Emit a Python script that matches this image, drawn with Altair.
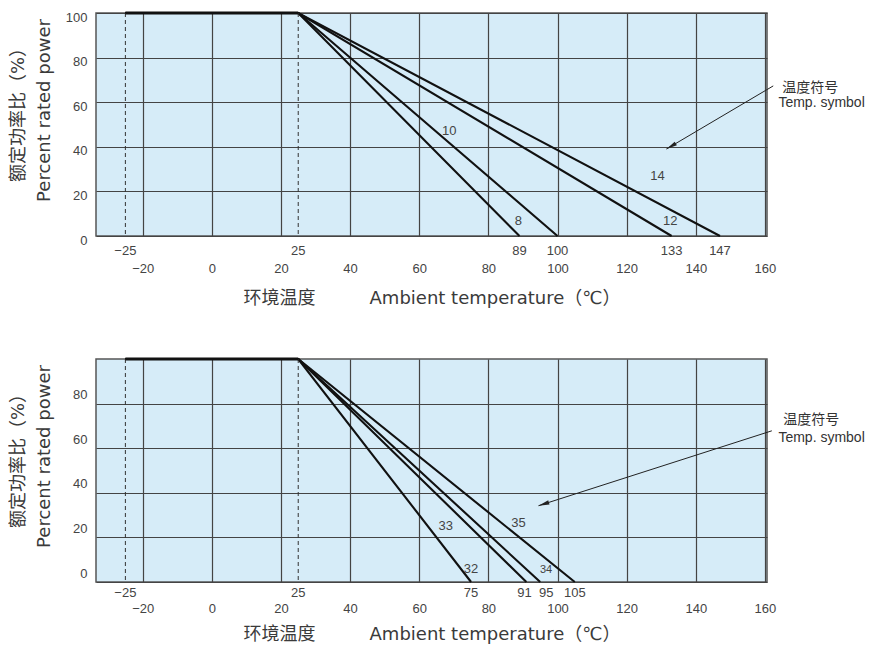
import math
import altair as alt
import pandas as pd

NUM_FONT = "Liberation Sans, Noto Sans CJK SC"
TITLE_FONT = "DejaVu Sans, Noto Sans CJK SC"

# ---------------- data ----------------
x_ticks = [-20, 0, 20, 40, 60, 80, 100, 120, 140, 160]
y_ticks_top = [0, 20, 40, 60, 80, 100]
y_ticks_bottom = [0, 20, 40, 60, 80]

min_temp = -25
rated_temp = 25
full_power = 100
zero_power = 0

top_symbols = ["8", "10", "12", "14"]
top_zero_temps = [89, 100, 133, 147]
top_label_x = [88.7, 68.7, 132.6, 128.9]
top_label_y = [6.7, 47.1, 6.7, 26.9]

bottom_symbols = ["32", "33", "34", "35"]
bottom_zero_temps = [75, 91, 95, 105]
bottom_label_x = [75.0, 67.7, 96.7, 88.7]
bottom_label_y = [5.9, 25.2, 5.5, 26.5]

note_lines = ["温度符号", "Temp. symbol"]
top_arrow_from = [162.4, 67.3]
top_arrow_to = [131.5, 39.0]
top_note_x = [165.0, 163.9]
top_note_y = [66.4, 59.6]
bottom_arrow_from = [162.0, 67.8]
bottom_arrow_to = [94.5, 34.2]
bottom_note_x = [165.3, 163.9]
bottom_note_y = [72.8, 64.6]

x_title = "环境温度\u3000\u3000\u3000Ambient temperature（℃）"
y_title = ["额定功率比（%）", "Percent rated power"]

# ---------------- layout ----------------
W, H = 671, 223
X_DOMAIN = [-33.5, 160.6]
Y_DOMAIN = [0, 100]
ARROW_HEAD = "M0,0L0.45,2.3L-0.45,2.3Z"


def arrow_angle(p0, p1):
    dx = (p1[0] - p0[0]) * W / (X_DOMAIN[1] - X_DOMAIN[0])
    dy = -(p1[1] - p0[1]) * H / (Y_DOMAIN[1] - Y_DOMAIN[0])
    return math.degrees(math.atan2(dx, -dy)) % 360


def panel(symbols, zero_temps, lab_x, lab_y, y_ticks, y_label_offset,
          x_label_pad, x_title_pad, y_title_pad, special_dy,
          arrow_from, arrow_to, note_x, note_y):
    x_scale = alt.Scale(domain=X_DOMAIN, nice=False, zero=False)
    y_scale = alt.Scale(domain=Y_DOMAIN, nice=False, zero=False)
    x_axis = alt.Axis(
        values=x_ticks, title=x_title, grid=True, ticks=False, tickSize=0,
        domain=False, labelPadding=x_label_pad, labelFontSize=13,
        labelColor="#444", labelFont=NUM_FONT, format="d", labelFlush=False,
        labelOverlap=False, titleFont=TITLE_FONT, titleFontSize=18,
        titleFontWeight="normal", titleColor="#3a3a3a", titlePadding=x_title_pad,
        gridColor="#444", gridWidth=1.2)
    y_axis = alt.Axis(
        values=y_ticks, title=y_title, grid=True, ticks=False, tickSize=0,
        domain=False, labelPadding=9, labelOffset=y_label_offset,
        labelFontSize=13, labelColor="#444", labelFont=NUM_FONT,
        titleFont=TITLE_FONT, titleFontSize=18, titleFontWeight="normal",
        titleColor="#3a3a3a", titlePadding=y_title_pad, titleY=97,
        titleLineHeight=26, gridColor="#444", gridWidth=1.2)

    rows = []
    for s, t in zip(symbols, zero_temps):
        rows.append({"sym": s, "t": min_temp, "p": full_power, "o": 0})
        rows.append({"sym": s, "t": rated_temp, "p": full_power, "o": 1})
        rows.append({"sym": s, "t": t, "p": zero_power, "o": 2})
    lines = alt.Chart(pd.DataFrame(rows)).mark_line(
        color="#111", strokeWidth=2.1).encode(
        x=alt.X("t:Q", scale=x_scale, axis=x_axis),
        y=alt.Y("p:Q", scale=y_scale, axis=y_axis),
        detail="sym:N", order="o:Q")

    flat = alt.Chart(pd.DataFrame({"t": [min_temp], "t2": [rated_temp],
                                   "p": [full_power]})).mark_rule(
        color="#111", strokeWidth=3.2).encode(x="t:Q", x2="t2:Q", y="p:Q")

    dashed = alt.Chart(pd.DataFrame({"t": [min_temp, rated_temp]})).mark_rule(
        color="#333", strokeWidth=1, strokeDash=[4, 3]).encode(x="t:Q")

    special_df = pd.DataFrame({"t": [min_temp, rated_temp] + list(zero_temps)})
    special_base = alt.Chart(special_df).encode(
        x="t:Q", y=alt.value(H + special_dy),
        text=alt.Text("t:Q", format="d"))
    special = special_base.mark_text(
        font=NUM_FONT, fontSize=13, color="#444", baseline="middle"
    ).transform_filter("datum.t != 95 && datum.t != 91")
    special_91 = special_base.mark_text(
        font=NUM_FONT, fontSize=13, color="#444", baseline="middle", dx=-2
    ).transform_filter("datum.t == 91")
    special_95 = special_base.mark_text(
        font=NUM_FONT, fontSize=13, color="#444", baseline="middle", dx=6
    ).transform_filter("datum.t == 95")

    sym_labels = alt.Chart(pd.DataFrame(
        {"sym": symbols, "lx": lab_x, "ly": lab_y})).mark_text(
        font=NUM_FONT, color="#444", baseline="middle").encode(
        x="lx:Q", y="ly:Q", text="sym:N",
        size=alt.condition(alt.datum.sym == "34", alt.value(11), alt.value(13)))

    arrow_df = pd.DataFrame({"x": [arrow_from[0]], "y": [arrow_from[1]],
                             "x2": [arrow_to[0]], "y2": [arrow_to[1]]})
    arrow_line = alt.Chart(arrow_df).mark_rule(
        color="#222", strokeWidth=1).encode(x="x:Q", y="y:Q", x2="x2:Q", y2="y2:Q")
    arrow_head = alt.Chart(arrow_df).mark_point(
        shape=ARROW_HEAD, filled=True, color="#222", size=90, opacity=1,
        angle=arrow_angle(arrow_from, arrow_to)).encode(x="x2:Q", y="y2:Q")

    note = alt.Chart(pd.DataFrame(
        {"txt": note_lines, "nx": note_x, "ny": note_y})).mark_text(
        align="left", baseline="middle", font=NUM_FONT, fontSize=14,
        color="#333").encode(x="nx:Q", y="ny:Q", text="txt:N")

    return alt.layer(lines, dashed, flat, special, special_91, special_95,
                     sym_labels, arrow_line, arrow_head, note
                     ).properties(width=W, height=H)


top = panel(top_symbols, top_zero_temps, top_label_x, top_label_y,
            y_ticks_top, 4, 26, 14, 12, 15,
            top_arrow_from, top_arrow_to, top_note_x, top_note_y)
bottom = panel(bottom_symbols, bottom_zero_temps, bottom_label_x,
               bottom_label_y, y_ticks_bottom, -9, 20, 10, 19, 11,
               bottom_arrow_from, bottom_arrow_to, bottom_note_x, bottom_note_y)

chart = alt.vconcat(top, bottom, spacing=123, bounds="flush").properties(
    padding={"left": 0, "top": 0, "right": 0, "bottom": 0}
).configure_view(fill="#d6ecf8", stroke="#555", strokeWidth=1.5)

chart.save("out.html", embed_options={"renderer": "svg", "actions": False})
